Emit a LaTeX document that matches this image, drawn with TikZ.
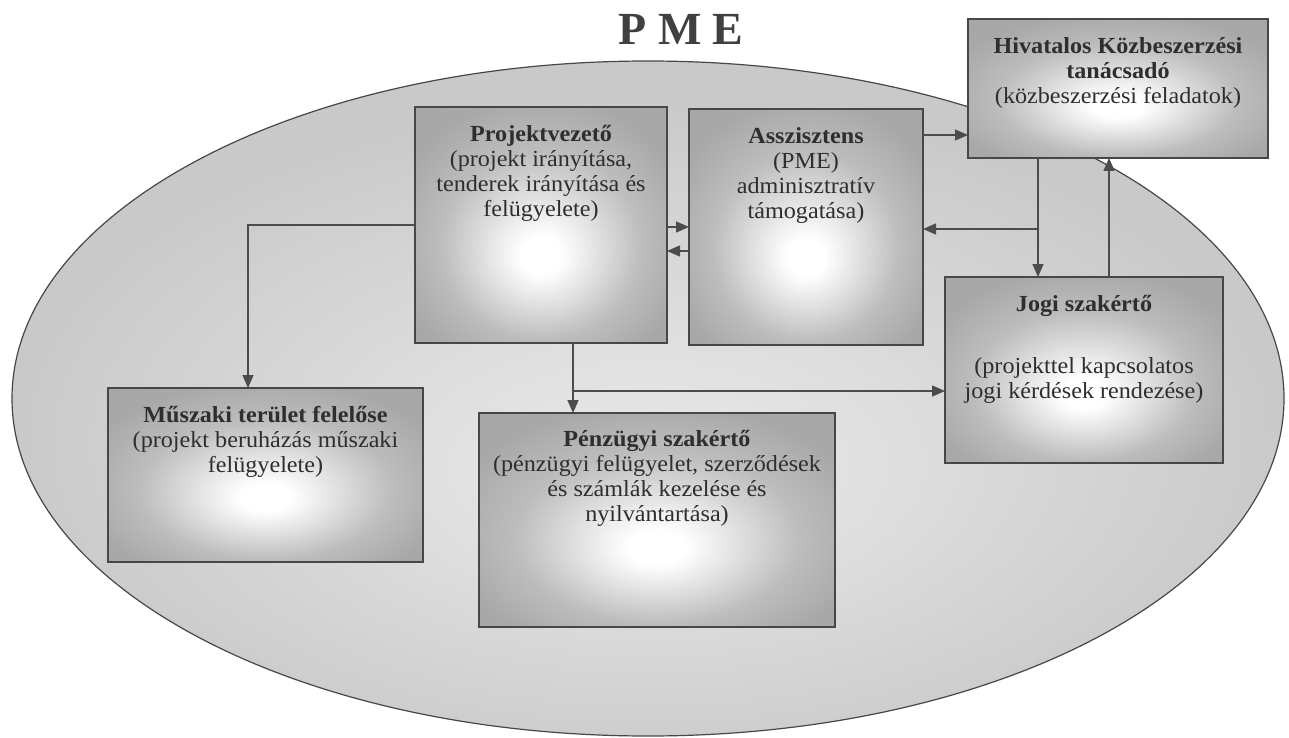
\documentclass[tikz,border=0pt]{standalone}
\usepackage{fontspec}
\setmainfont{Liberation Serif}[FakeStretch=1.05]
\newfontfamily\titlefont{Liberation Serif}
\usetikzlibrary{arrows.meta,shapes.geometric}
\pgfdeclareradialshading{boxglow}{\pgfpoint{0bp}{-7bp}}{color(0bp)=(white); color(4bp)=(white); color(20bp)=(black!26); color(30bp)=(black!34); color(50bp)=(black!36)}
\pgfdeclareradialshading{ellglow}{\pgfpoint{0bp}{-6bp}}{color(0bp)=(black!8); color(10bp)=(black!13); color(25bp)=(black!21); color(50bp)=(black!23)}
\newcommand\fstrut{\rule{0pt}{24pt}}
\tikzset{
  boxn/.style={draw=black!72, line width=1.6pt, shade, shading=boxglow, inner sep=0pt, outer sep=0pt},
  txt/.style={anchor=north, inner sep=0pt, align=center, text=black!82,
    font={\fontsize{23}{25}\selectfont\lineskiplimit-100pt\relax}},
  arr/.style={draw=black!70, line width=1.3pt, -{Triangle[length=13pt,width=11pt]}},
}
\begin{document}
\begin{tikzpicture}[x=1pt,y=-1pt]
\fill[white] (0,0) rectangle (1289,738);
\useasboundingbox (0,0) rectangle (1289,738);

% ellipse
\node[ellipse, draw=black!72, line width=1.2pt, shade, shading=ellglow,
  minimum width=1272pt, minimum height=675pt, inner sep=0pt] (pme) at (648,398.5) {};

% title
\node[anchor=base, inner sep=0pt, text=black!75,
  font=\titlefont\bfseries\fontsize{46}{50}\selectfont] (title) at (681,45) {P M E};

% boxes
\node[boxn, minimum width=252pt, minimum height=236pt] (pv)   at (541,225) {};
\node[boxn, minimum width=234pt, minimum height=236pt] (asz)  at (806,227) {};
\node[boxn, minimum width=300pt, minimum height=139pt] (hiv)  at (1118,88.5) {};
\node[boxn, minimum width=278pt, minimum height=186pt] (jogi) at (1084,370) {};
\node[boxn, minimum width=315pt, minimum height=174pt] (musz) at (265.5,475) {};
\node[boxn, minimum width=356pt, minimum height=214pt] (penz) at (657,520) {};

% texts
\node[txt] (tpv) at ([yshift=-10pt]pv.north)
  {\fstrut\textbf{Projektvezető}\\(projekt irányítása,\\tenderek irányítása és\\felügyelete)};
\node[txt] (tasz) at ([yshift=-10pt]asz.north)
  {\fstrut\textbf{Asszisztens}\\(PME)\\adminisztratív\\támogatása)};
\node[txt] (thiv) at ([yshift=-10pt]hiv.north)
  {\fstrut\textbf{Hivatalos Közbeszerzési}\\\textbf{tanácsadó}\\(közbeszerzési feladatok)};
\node[txt] (tjogi) at ([yshift=-10pt]jogi.north)
  {\fstrut\textbf{Jogi szakértő}\\[37pt](projekttel kapcsolatos\\jogi kérdések rendezése)};
\node[txt] (tmusz) at ([yshift=-10pt]musz.north)
  {\fstrut\textbf{Műszaki terület felelőse}\\(projekt beruházás műszaki\\felügyelete)};
\node[txt] (tpenz) at ([yshift=-9pt]penz.north)
  {\fstrut\textbf{Pénzügyi szakértő}\\(pénzügyi felügyelet, szerződések\\és számlák kezelése és\\nyilvántartása)};

% connectors
\draw[arr] (pv.west) -| ([xshift=-17.5pt]musz.north);
\coordinate (p1) at ([yshift=-2pt]pv.east);
\draw[arr] (p1) -- (p1 -| asz.west);
\coordinate (p2) at ([yshift=-24pt]asz.west);
\draw[arr] (p2) -- (p2 -| pv.east);
\coordinate (p3) at ([yshift=92pt]asz.east);
\draw[arr] (p3) -- (p3 -| hiv.west);
\coordinate (p4) at ([xshift=-80pt]hiv.south);
\draw[arr] (p4) -- (p4 |- jogi.north);
\coordinate (p5) at (1038,229);
\draw[arr] (p5) -- (p5 -| asz.east);
\coordinate (p6) at ([xshift=25pt]jogi.north);
\draw[arr] (p6) -- (p6 |- hiv.south);
\coordinate (p7) at ([xshift=32pt]pv.south);
\draw[arr] (p7) -- (p7 |- penz.north);
\coordinate (p8) at (573,391);
\draw[arr] (p8) -- (p8 -| jogi.west);
\end{tikzpicture}
\end{document}
